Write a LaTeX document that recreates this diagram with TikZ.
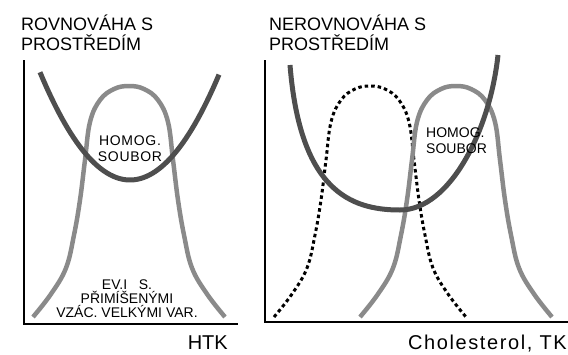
\documentclass[tikz,border=0pt]{standalone}
\usepackage{fontspec}
\setmainfont{Liberation Sans}
\usetikzlibrary{positioning,calc}
\definecolor{CurveDark}{RGB}{78,78,78}
\definecolor{CurveGray}{RGB}{138,138,138}
\tikzset{
  axis/.style={draw=black,line width=2.2pt},
  ucurve/.style={draw=CurveDark,line width=5pt},
  bell/.style={draw=CurveGray,line width=4.5pt},
  dotbell/.style={draw=black,line width=3pt,dash pattern=on 3.5pt off 3pt},
  heading/.style={anchor=base west,inner sep=0pt,font=\fontsize{18}{20}\selectfont},
}
\tikzset{note/.style={inner sep=0pt,font=\fontsize{14}{16}\selectfont},
  axlab/.style={anchor=base east,inner sep=0pt,font=\fontsize{20}{22}\selectfont}}
% one bell, centred on the pic's origin
\tikzset{bellshape/.pic={
  \path[pic actions] plot[smooth,tension=0.65] coordinates {(-96,317) (-78,294)
    (-63,268) (-55,235) (-49,200) (-44,160) (-39,122) (-29,100) (-15,89) (0,86)
    (15,89) (29,100) (39,122) (44,160) (49,200) (55,235) (63,268) (78,294) (96,317)};
}}

\begin{document}
\begin{tikzpicture}[x=1pt,y=-1pt]
\useasboundingbox (0,0) rectangle (568,354);
% left panel
\coordinate (topL) at (24,60);
\coordinate (orgL) at (24,324);
\coordinate (endL) at (238,324);
\draw[axis] (topL) -- (orgL) -- (endL);
\pic[bell] (bellL) at (129,0) {bellshape};
\draw[ucurve] plot[domain=40:219,samples=60] (\x,{180-0.0133*(\x-130)*(\x-130)});
\node[heading] (ttlLa) at (21,30) {ROVNOVÁHA S};
\node[heading] (ttlLb) at (21,50) {PROSTŘEDÍM};
\node[note,anchor=north,align=center] (homL) at (130,136)
  {\addfontfeature{LetterSpace=5}HOMOG.\\\addfontfeature{LetterSpace=5}SOUBOR};
\node[note,anchor=north,align=center,font=\fontsize{14}{14}\selectfont] (evL) at (127,280)
  {EV.I\ \ \ S.\\PŘIMÍŠENÝMI\\VZÁC. VELKÝMI VAR.};
\node[axlab] (htk) at (228,349) {HTK};
% right panel
\coordinate (topR) at (265,60);
\coordinate (orgR) at (265,322);
\coordinate (endR) at (568,322);
\draw[axis] (topR) -- (orgR) -- (endR);
\pic[dotbell] (dotR) at (370,0) {bellshape};
\pic[bell] (bellR) at (456,0) {bellshape};
\draw[ucurve] (290,65) .. controls (300,190) and (350,210) .. (400,210)
  .. controls (450,210) and (490,130) .. (498,55);
\node[heading] (ttlRa) at (269,30) {NEROVNOVÁHA S};
\node[heading] (ttlRb) at (269,50) {PROSTŘEDÍM};
\node[note,anchor=north west,align=left] (homR) at (426,128) {HOMOG.\\SOUBOR};
\node[axlab] (chol) at (567,349) {\addfontfeature{LetterSpace=8}Cholesterol, TK};
\end{tikzpicture}
\end{document}
